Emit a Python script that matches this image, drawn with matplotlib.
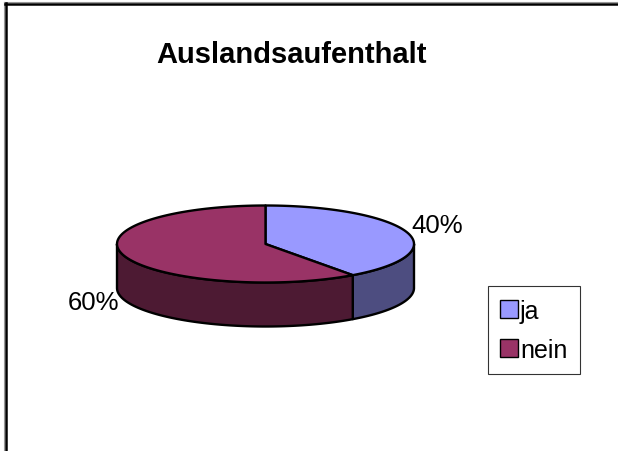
import numpy as np
import matplotlib.pyplot as plt
from matplotlib.patches import Polygon, Patch

# data
labels = ["ja", "nein"]
values = [40, 60]
top_colors = ["#9999FF", "#993366"]
side_colors = ["#4D4D80", "#4D1A33"]
title = "Auslandsaufenthalt"

plt.rcParams['font.family'] = ['Liberation Sans', 'DejaVu Sans']

fig = plt.figure(figsize=(6.18, 4.52), dpi=100)
ax = fig.add_axes([0, 0, 1, 1])
ax.set_xlim(0, 618)
ax.set_ylim(452, 0)
ax.axis('off')

# pie geometry (pixel space)
cx, cy = 265.5, 245
rx, ry = 148.5, 38.5
depth = 44


def arc(a0, a1, n=120):
    t = np.radians(np.linspace(a0, a1, n))
    return cx + rx * np.cos(t), cy - ry * np.sin(t)


total = float(sum(values))
angles = []
start = 90.0
for v in values:
    end = start - 360.0 * v / total
    angles.append((end, start))
    start = end

# side walls (only the front half is visible)
for (a_lo, a_hi), sc in zip(angles, side_colors):
    for w_lo, w_hi in [(-180, 0), (-540, -360), (180, 360)]:
        lo, hi = max(a_lo, w_lo), min(a_hi, w_hi)
        if hi <= lo:
            continue
        x, y = arc(lo, hi)
        xs = np.concatenate([x, x[::-1]])
        ys = np.concatenate([y, (y + depth)[::-1]])
        ax.add_patch(Polygon(np.column_stack([xs, ys]), closed=True,
                             facecolor=sc, edgecolor='black', lw=1.7,
                             joinstyle='round'))

# top faces
for (a_lo, a_hi), tc in zip(angles, top_colors):
    x, y = arc(a_hi, a_lo)
    pts = np.column_stack([np.r_[cx, x], np.r_[cy, y]])
    ax.add_patch(Polygon(pts, closed=True, facecolor=tc, edgecolor='black',
                         lw=1.7, joinstyle='round'))

# percentage labels
for (a_lo, a_hi), v in zip(angles, values):
    mid = np.radians((a_lo + a_hi) / 2)
    lx = cx + (rx + 32) * np.cos(mid)
    ly = cy - 60 * np.sin(mid)
    if np.sin(mid) < 0:
        ly += depth - 5
    ax.text(lx, ly, f"{v / total * 100:.0f}%", fontsize=18.5,
            ha='center', va='center')

ax.text(292, 55, title, fontsize=21, fontweight='bold',
        ha='center', va='center')

# legend
handles = [Patch(facecolor=c, edgecolor='black', label=l)
           for l, c in zip(labels, top_colors)]
leg = ax.legend(handles=handles, loc='upper left',
                bbox_to_anchor=(488 / 618, 1 - 287 / 452),
                bbox_transform=fig.transFigure, frameon=True, fancybox=False,
                edgecolor='black', fontsize=18, handlelength=0.7,
                handleheight=0.7, handletextpad=0.08, labelspacing=0.6,
                borderpad=0.5, borderaxespad=0)
leg.get_frame().set_linewidth(0.8)

# chart frame
ax.plot([4, 618], [3, 3], color='#999999', lw=0.8)
ax.plot([4, 4], [3, 452], color='#999999', lw=0.8)
ax.plot([5, 618], [5, 5], color='black', lw=1.8)
ax.plot([6, 6], [4, 452], color='black', lw=1.8)

fig.savefig("out.png", dpi=100)
